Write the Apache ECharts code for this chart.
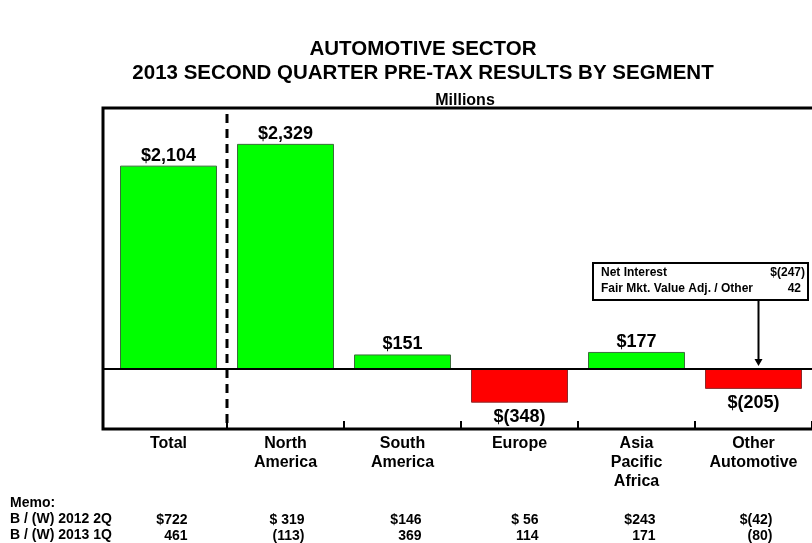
<!DOCTYPE html>
<html>
<head>
<meta charset="utf-8">
<script src="https://cdn.jsdelivr.net/npm/echarts@6/dist/echarts.min.js"></script>
<style>
html,body{margin:0;padding:0;background:#fff;}
#chart{width:812px;height:543px;}
</style>
</head>
<body>
<div id="chart"></div>
<script>
// ---- data ----
const categories = ['Total', 'North\nAmerica', 'South\nAmerica', 'Europe', 'Asia\nPacific\nAfrica', 'Other\nAutomotive'];
const pretax = [2104, 2329, 151, -348, 177, -205];
const memo2012_2Q = ['$722', '$ 319', '$146', '$ 56', '$243', '$(42)'];
const memo2013_1Q = ['461', '(113)', '369', '114', '171', '(80)'];
const memoRowLabels = ['Memo:', 'B / (W) 2012 2Q', 'B / (W) 2013 1Q'];
const noteLabels = ['Net Interest', 'Fair Mkt. Value Adj. / Other'];
const noteValues = ['$(247)', '42'];
const titleLines = ['AUTOMOTIVE SECTOR', '2013 SECOND QUARTER PRE-TAX RESULTS BY SEGMENT'];
const unitLabel = 'Millions';

const FONT = '"Liberation Sans", Arial, sans-serif';
function fmt(v) {
  const a = Math.abs(v).toLocaleString('en-US');
  return v >= 0 ? '$' + a : '$(' + a + ')';
}

const chart = echarts.init(document.getElementById('chart'), null, {renderer: 'canvas'});

const barData = pretax.map(v => ({
  value: v,
  itemStyle: v >= 0
    ? {color: '#00FF00', borderColor: '#3a6e3a', borderWidth: 1}
    : {color: '#FF0000', borderColor: '#8a2a2a', borderWidth: 1},
  label: v >= 0 ? {position: 'top', distance: 1} : {position: 'bottom', distance: 5}
}));

chart.setOption({
  backgroundColor: '#ffffff',
  animation: false,
  title: [{
    text: titleLines.join('\n'),
    left: 418,
    top: 32,
    textAlign: 'center',
    textStyle: {fontFamily: FONT, fontSize: 20.5, fontWeight: 'bold', color: '#000', lineHeight: 24}
  }, {
    text: unitLabel,
    left: 460,
    top: 88,
    textAlign: 'center',
    textStyle: {fontFamily: FONT, fontSize: 16, fontWeight: 'bold', color: '#000'}
  }],
  grid: {left: 110, top: 108, width: 703, height: 321, containLabel: false},
  xAxis: [{
    type: 'category',
    data: categories,
    position: 'bottom',
    axisLine: {show: false, onZero: false},
    axisTick: {show: true, inside: true, length: 8, interval: (idx) => idx !== 0, lineStyle: {color: '#000', width: 2}},
    axisLabel: {interval: 0, margin: 5, color: '#000', fontFamily: FONT, fontSize: 16, fontWeight: 'bold', lineHeight: 19},
    splitLine: {show: false}
  }, {
    type: 'category',
    data: categories,
    position: 'bottom',
    offset: 83,
    axisLine: {show: false, onZero: false},
    axisTick: {show: false},
    axisLabel: {
      interval: 0, margin: 0,
      formatter: (val, idx) => '{a|' + memo2012_2Q[idx] + '}\n{a|' + memo2013_1Q[idx] + '}',
      rich: {a: {width: 38, align: 'right', fontFamily: FONT, fontSize: 14, fontWeight: 'bold', color: '#000', lineHeight: 16}}
    },
    splitLine: {show: false}
  }],
  yAxis: {
    type: 'value', min: -620, max: 2700,
    axisLine: {show: false}, axisTick: {show: false}, axisLabel: {show: false}, splitLine: {show: false}
  },
  series: [{
    type: 'bar',
    xAxisIndex: 0,
    data: barData,
    barWidth: 97,
    label: {
      show: true,
      formatter: p => fmt(p.value),
      fontFamily: FONT, fontSize: 18, fontWeight: 'bold', color: '#000'
    }
  }]
});

const xs = categories.map((c, i) => chart.convertToPixel({xAxisIndex: 0}, i));
const zeroY = chart.convertToPixel({yAxisIndex: 0}, 0);
const topY = chart.convertToPixel({yAxisIndex: 0}, 2700);
const botY = chart.convertToPixel({yAxisIndex: 0}, -620);
const dividerX = (xs[0] + xs[1]) / 2;
const frameLeft = 103;
const arrowX = xs[5] + 5;

const g = [];
// frame
g.push({type: 'polyline', z: 20, shape: {points: [[815, topY], [frameLeft, topY], [frameLeft, botY], [815, botY]]},
  style: {stroke: '#000', lineWidth: 3, fill: null}});
// zero line
g.push({type: 'line', z: 20, shape: {x1: frameLeft, y1: zeroY, x2: 815, y2: zeroY}, style: {stroke: '#000', lineWidth: 2}});
// dashed divider
g.push({type: 'line', z: 20, shape: {x1: dividerX, y1: topY + 6, x2: dividerX, y2: botY}, style: {stroke: '#000', lineWidth: 3, lineDash: [9, 6]}});
// memo row labels
memoRowLabels.forEach((t, i) => {
  g.push({type: 'text', z: 20, left: 10, top: 496 + i * 16,
    style: {text: t, font: 'bold 14px ' + FONT, fill: '#000'}});
});
// note box
const boxL = 593, boxT = 263, boxR = 808, boxB = 300;
g.push({type: 'rect', z: 20, shape: {x: boxL, y: boxT, width: boxR - boxL, height: boxB - boxT},
  style: {fill: '#fff', stroke: '#000', lineWidth: 2}});
noteLabels.forEach((t, i) => {
  g.push({type: 'text', z: 21, x: boxL + 8, y: boxT + 10 + i * 16,
    style: {text: t, font: 'bold 12px ' + FONT, fill: '#000', verticalAlign: 'middle', textAlign: 'left'}});
  g.push({type: 'text', z: 21, x: boxR - 3 - (i === 1 ? 4 : 0), y: boxT + 10 + i * 16,
    style: {text: noteValues[i], font: 'bold 12px ' + FONT, fill: '#000', verticalAlign: 'middle', textAlign: 'right'}});
});
// arrow
g.push({type: 'line', z: 20, shape: {x1: arrowX, y1: boxB, x2: arrowX, y2: zeroY - 8}, style: {stroke: '#000', lineWidth: 2}});
g.push({type: 'polygon', z: 20, shape: {points: [[arrowX - 4, zeroY - 10], [arrowX + 4, zeroY - 10], [arrowX, zeroY - 3]]},
  style: {fill: '#000'}});

chart.setOption({graphic: g});
</script>
</body>
</html>
